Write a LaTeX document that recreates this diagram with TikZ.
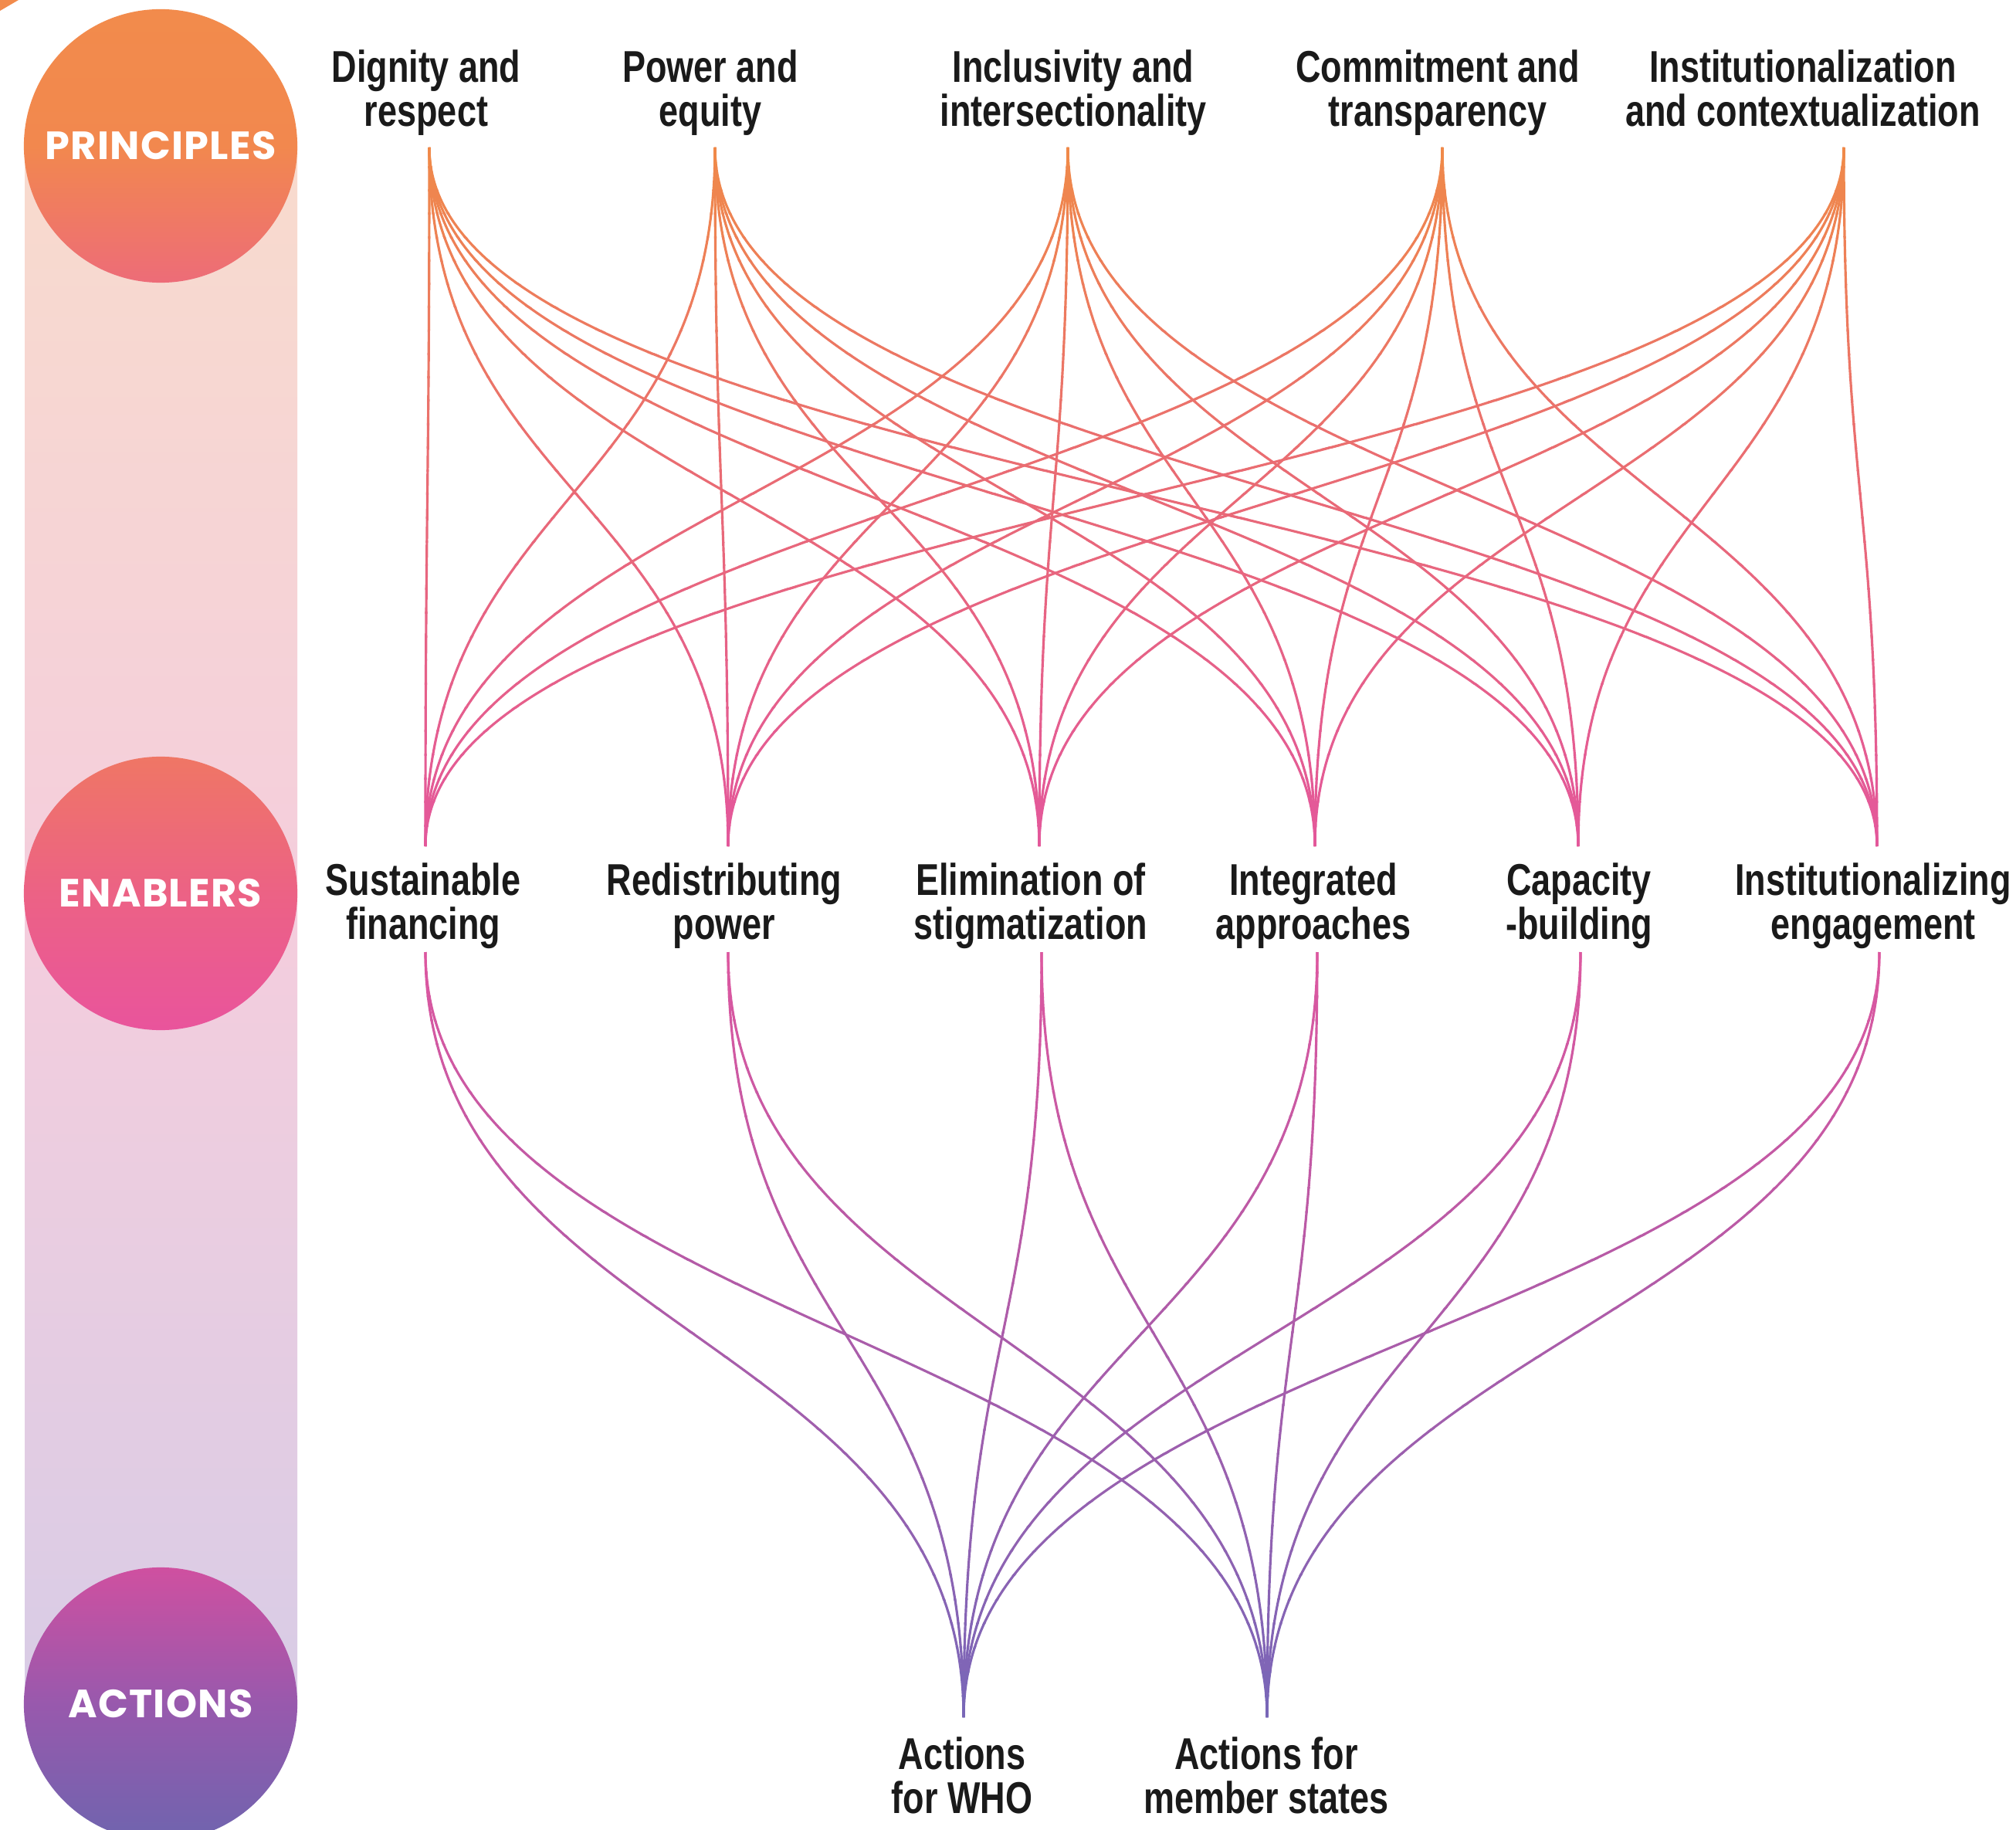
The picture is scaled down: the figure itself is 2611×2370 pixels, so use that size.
\documentclass[tikz,border=0pt]{standalone}
\usepackage{fontspec}
\newfontfamily\labfont{Liberation Sans}[FakeStretch=0.78]
\newfontfamily\circfont{Poppins}[LetterSpace=2.5]
\usetikzlibrary{calc}
\definecolor{lnA}{HTML}{F08A48}
\definecolor{lnB}{HTML}{E96A76}
\definecolor{lnC}{HTML}{E3579C}
\definecolor{lnD}{HTML}{DD58A0}
\definecolor{lnE}{HTML}{B95AA6}
\definecolor{lnF}{HTML}{7767B8}
\definecolor{stripA}{HTML}{F8DBCD}
\definecolor{stripB}{HTML}{F4CDDD}
\definecolor{stripC}{HTML}{D8CCE6}
\definecolor{prinA}{HTML}{F28B4C}
\definecolor{prinB}{HTML}{F2884E}
\definecolor{prinC}{HTML}{ED6C78}
\definecolor{enabA}{HTML}{EF7665}
\definecolor{enabB}{HTML}{EC6285}
\definecolor{enabC}{HTML}{E9549C}
\definecolor{actA}{HTML}{CF50A0}
\definecolor{actB}{HTML}{9859AD}
\definecolor{actC}{HTML}{6F64AE}
\definecolor{labtext}{HTML}{1A1A1A}
\colorlet{bandcol}{lnA}
\newcommand\bandsweep[6]{%
  \foreach \bi in {1,...,#3}{%
    \pgfmathsetmacro\bya{#1+(\bi-1)*(#2-#1)/#3-1}%
    \pgfmathsetmacro\byb{#1+\bi*(#2-#1)/#3+1}%
    \pgfmathtruncatemacro\bpc{100*(\bi-0.5)/#3}%
    \colorlet{bandcol}{#5!\bpc!#4}%
    \begin{scope}
      \clip (0,\bya) rectangle (2611,\byb);
      #6
    \end{scope}}}
\newcommand\upperlinks{%
  \foreach \pa in {p1,p2,p3,p4,p5}{%
    \foreach \en in {e1,e2,e3,e4,e5,e6}{%
      \draw[link] let \p1=(\pa), \p2=(\en) in (\pa) .. controls (\x1,{0.5*(\y1+\y2)}) and (\x2,{0.5*(\y1+\y2)}) .. (\en);}}}
\newcommand\lowerlinks{%
  \foreach \en in {f1,f2,f3,f4,f5,f6}{%
    \foreach \ac in {a1,a2}{%
      \draw[link] let \p1=(\en), \p2=(\ac) in (\en) .. controls (\x1,{0.5*(\y1+\y2)}) and (\x2,{0.5*(\y1+\y2)}) .. (\ac);}}}
\begin{document}
\begin{tikzpicture}[x=0.01cm,y=-0.01cm,
  lab/.style={align=center, inner sep=0pt, anchor=north, text=labtext,
    font=\labfont\bfseries\fontsize{16.4}{16.2}\selectfont},
  stage/.style={circle, minimum size=3.54cm, inner sep=0pt, text=white,
    font=\circfont\bfseries\fontsize{14.5}{14.5}\selectfont},
  link/.style={line width=0.9pt, draw=bandcol}]
\useasboundingbox (0,0) rectangle (2611,2370);
\clip (0,0) rectangle (2611,2370);
\fill[white] (0,0) rectangle (2611,2370);
\fill[prinA] (0,0) -- (24,0) -- (0,14) -- cycle;
% background strip
\shade[top color=stripA, bottom color=stripC, middle color=stripB] (32,190) rectangle (385,2207);
% stage circles
\node[stage, top color=prinA, bottom color=prinC, middle color=prinB] (prin) at (208,189) {PRINCIPLES};
\node[stage, top color=enabA, bottom color=enabC, middle color=enabB] (enab) at (208,1157) {ENABLERS};
\node[stage, top color=actA, bottom color=actC, middle color=actB] (act) at (208,2207) {ACTIONS};
% anchor points
\coordinate (p1) at (556,191);
\coordinate (p2) at (926,191);
\coordinate (p3) at (1383,191);
\coordinate (p4) at (1868,191);
\coordinate (p5) at (2388,191);
\coordinate (e1) at (551,1096);
\coordinate (e2) at (943,1096);
\coordinate (e3) at (1346,1096);
\coordinate (e4) at (1703,1096);
\coordinate (e5) at (2044,1096);
\coordinate (e6) at (2431,1096);
\coordinate (f1) at (551,1233);
\coordinate (f2) at (943,1233);
\coordinate (f3) at (1349,1233);
\coordinate (f4) at (1706,1233);
\coordinate (f5) at (2047,1233);
\coordinate (f6) at (2434,1233);
\coordinate (a1) at (1248,2224);
\coordinate (a2) at (1641,2224);
% connectors with vertical colour gradient
\bandsweep{186}{640}{15}{lnA}{lnB}{\upperlinks}
\bandsweep{640}{1100}{15}{lnB}{lnC}{\upperlinks}
\bandsweep{1229}{1600}{12}{lnD}{lnE}{\lowerlinks}
\bandsweep{1600}{2228}{20}{lnE}{lnF}{\lowerlinks}
% labels
\node[lab] (ldig) at (552,64) {Dignity and\\respect};
\node[lab] (lpow) at (920,64) {Power and\\equity};
\node[lab] (linc) at (1390,64) {Inclusivity and\\intersectionality};
\node[lab] (lcom) at (1862,64) {Commitment and\\transparency};
\node[lab] (lins) at (2335,64) {Institutionalization\\and contextualization};
\node[lab] (lsus) at (548,1117) {Sustainable\\financing};
\node[lab] (lred) at (938,1117) {Redistributing\\power};
\node[lab] (leli) at (1335,1117) {Elimination of\\stigmatization};
\node[lab] (lint) at (1701,1117) {Integrated\\approaches};
\node[lab] (lcap) at (2045,1117) {Capacity\\-building};
\node[lab] (leng) at (2426,1117) {Institutionalizing\\engagement};
\node[lab] (lwho) at (1246,2249) {Actions\\for WHO};
\node[lab] (lmem) at (1640,2249) {Actions for\\member states};
\end{tikzpicture}
\end{document}
